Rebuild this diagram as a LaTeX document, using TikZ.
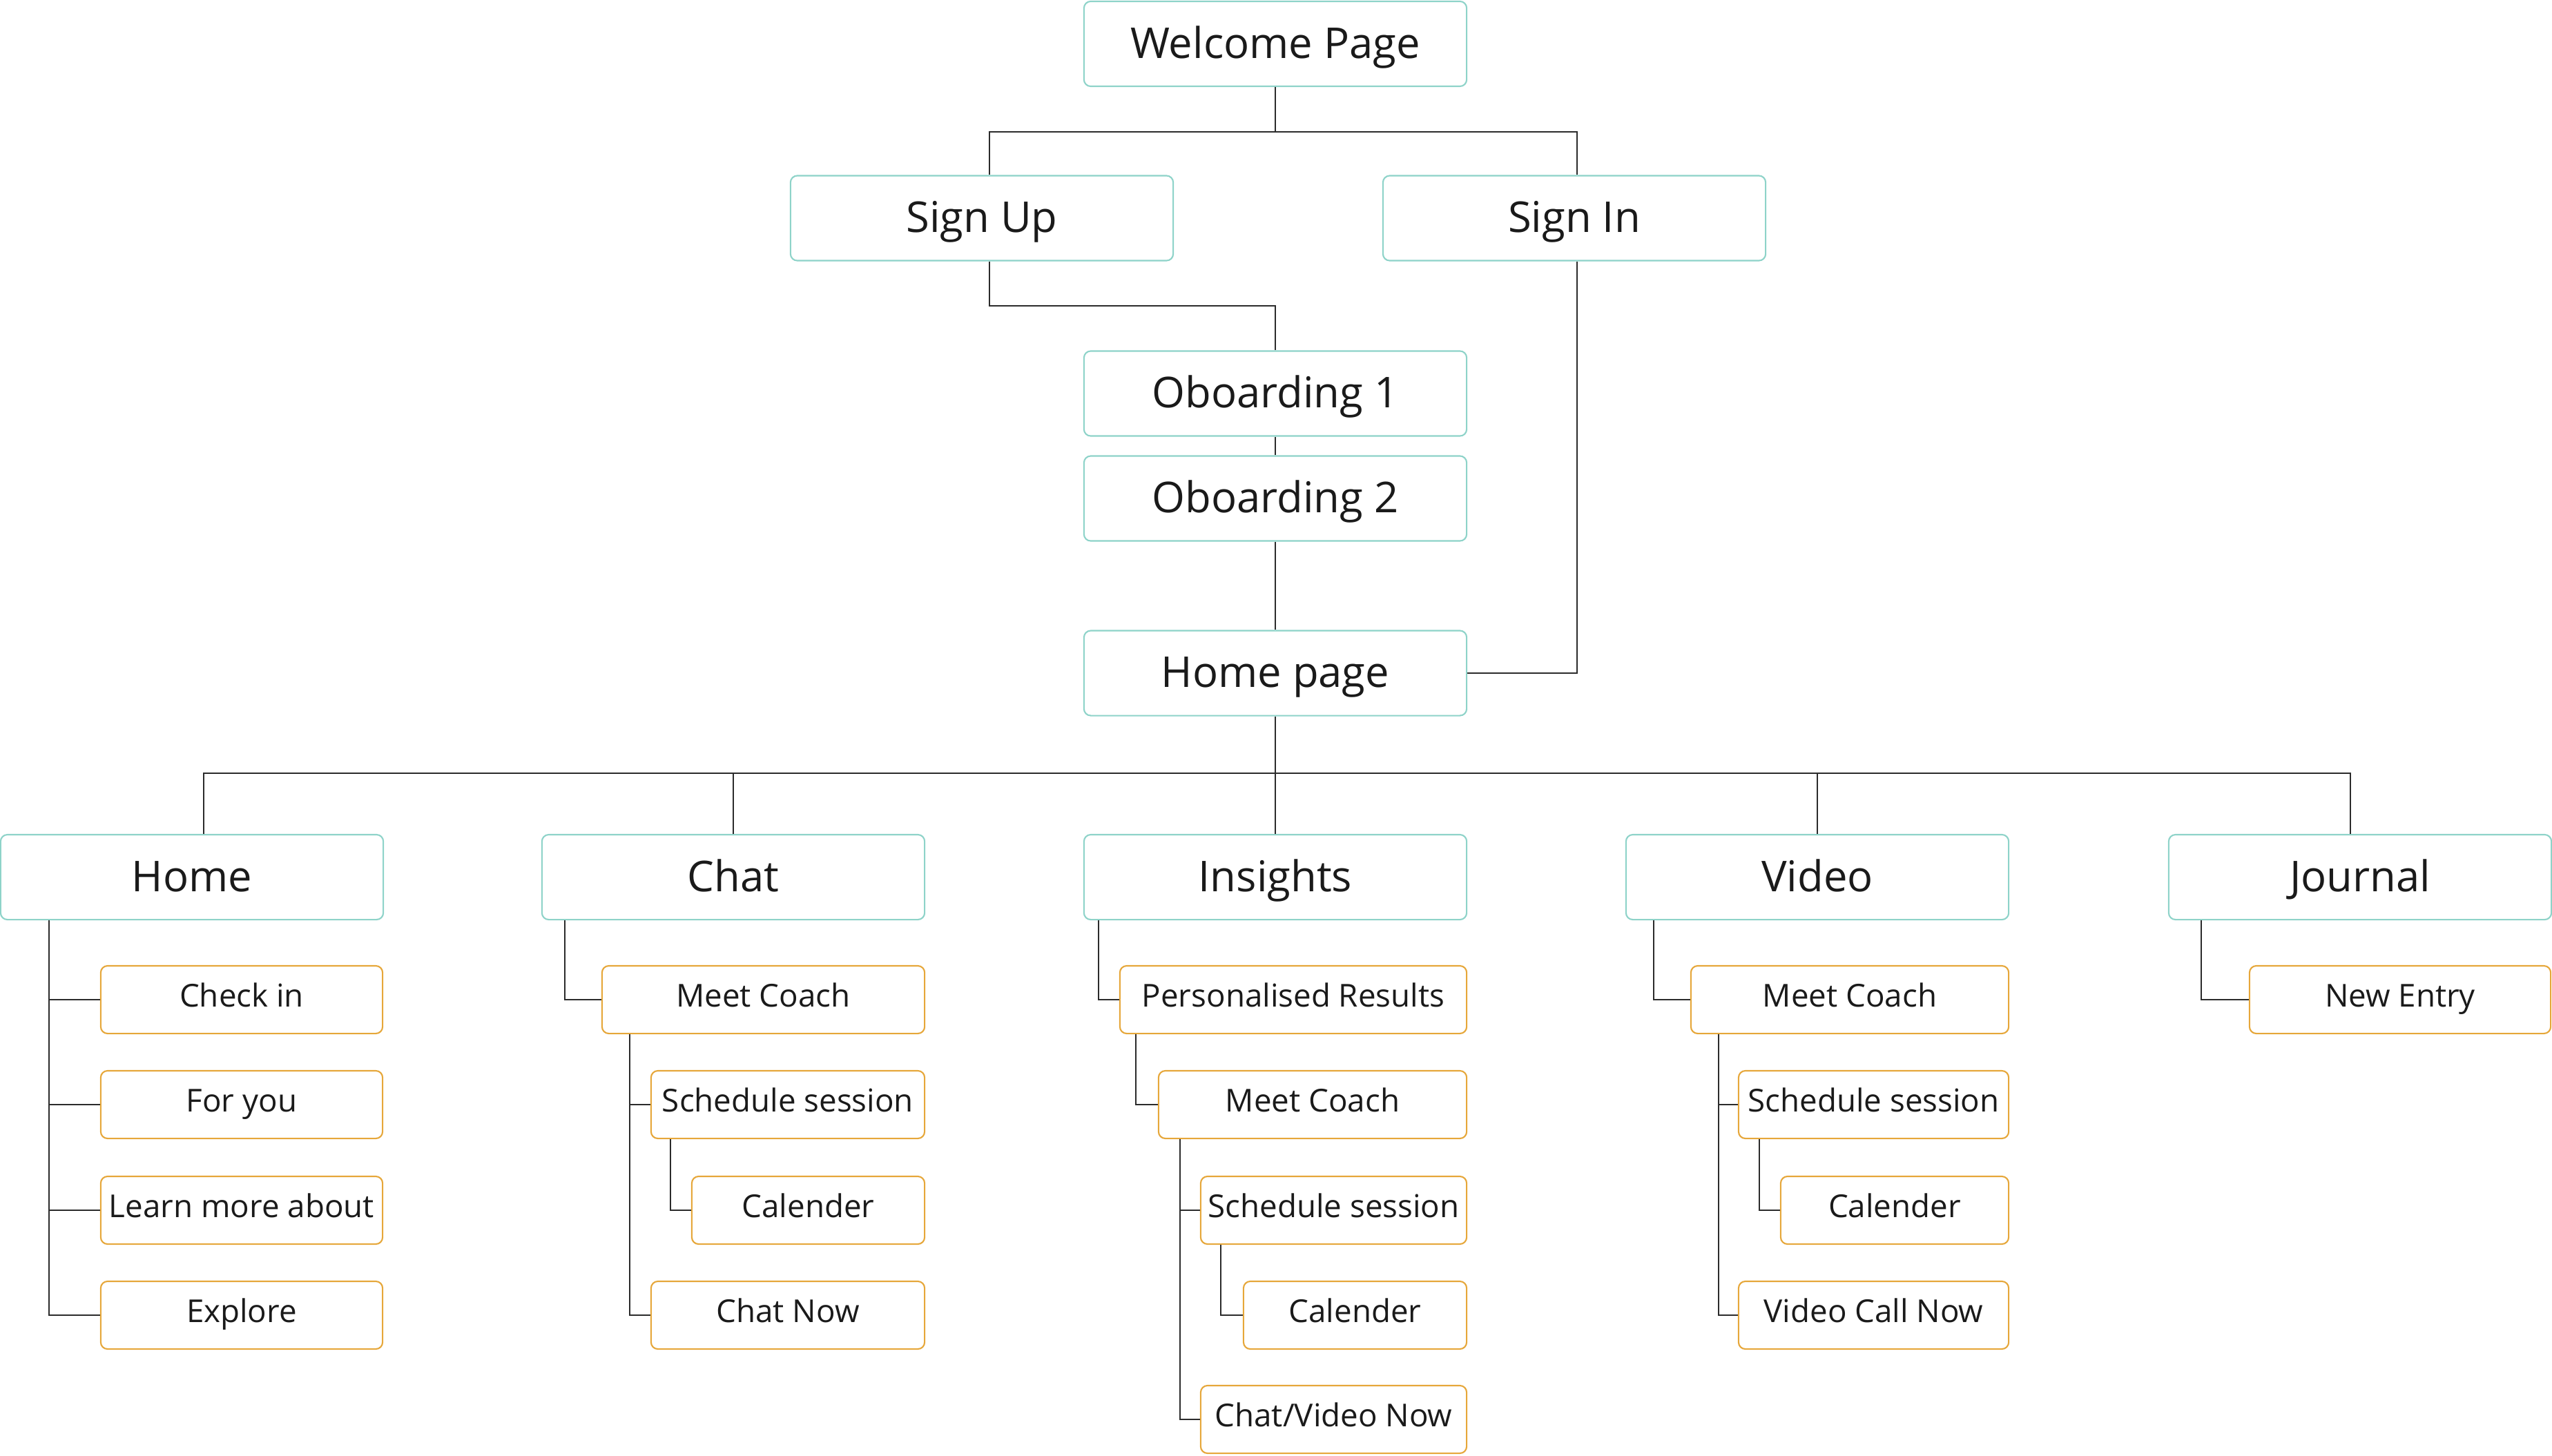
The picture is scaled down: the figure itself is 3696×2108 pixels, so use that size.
\documentclass[tikz,border=0pt]{standalone}
\usepackage{fontspec}
\setmainfont{Open Sans}
\definecolor{tealb}{HTML}{8ED3C9}
\definecolor{orangeb}{HTML}{E6A73A}
\definecolor{txt}{HTML}{1A1A1A}
\definecolor{lin}{HTML}{2B2B2B}
\begin{document}
\begin{tikzpicture}[x=0.01cm,y=-0.01cm,
  topbox/.style={draw=tealb,line width=0.6pt,rounded corners=2.8pt,fill=white,
    minimum width=5.54cm,minimum height=1.23cm,inner sep=0pt,text=txt,
    text height=12.5pt,text depth=0.6pt,
    font=\fontsize{17.5}{20}\selectfont},
  leafbox/.style={draw=orangeb,line width=0.6pt,rounded corners=2.8pt,fill=white,
    minimum height=0.98cm,inner sep=0pt,text=txt,
    text height=9.3pt,text depth=3.3pt,
    font=\fontsize{13}{15}\selectfont},
  conn/.style={draw=lin,line width=0.6pt}]
\useasboundingbox (0,0) rectangle (3696,2108);

% top part
\node[topbox] (welcome) at (1847,63.5) {Welcome Page};
\node[topbox] (signup) at (1422,316) {Sign Up};
\node[topbox] (signin) at (2280,316) {Sign In};
\node[topbox] (ob1) at (1847,570) {Oboarding 1};
\node[topbox] (ob2) at (1847,722) {Oboarding 2};
\node[topbox] (homepage) at (1847,975) {Home page};

% second row
\node[topbox] (home) at (278,1270.5) {Home};
\node[topbox] (chat) at (1062,1270.5) {Chat};
\node[topbox] (insights) at (1847,1270.5) {Insights};
\node[topbox] (video) at (2632,1270.5) {Video};
\node[topbox] (journal) at (3418,1270.5) {Journal};

% Home leaves
\node[leafbox,minimum width=4.08cm] (hck) at (350,1448) {Check in};
\node[leafbox,minimum width=4.08cm] (hfy) at (350,1600) {For you};
\node[leafbox,minimum width=4.08cm] (hlm) at (350,1753) {Learn more about};
\node[leafbox,minimum width=4.08cm] (hex) at (350,1905) {Explore};

% Chat leaves
\node[leafbox,minimum width=4.67cm] (cmc) at (1105.5,1448) {Meet Coach};
\node[leafbox,minimum width=3.96cm] (css) at (1141,1600) {Schedule session};
\node[leafbox,minimum width=3.37cm] (ccal) at (1170.5,1753) {Calender};
\node[leafbox,minimum width=3.96cm] (cnow) at (1141,1905) {Chat Now};

% Insights leaves
\node[leafbox,minimum width=5.02cm] (ipr) at (1873,1448) {Personalised Results};
\node[leafbox,minimum width=4.46cm] (imc) at (1901,1600) {Meet Coach};
\node[leafbox,minimum width=3.85cm] (iss) at (1931.5,1753) {Schedule session};
\node[leafbox,minimum width=3.23cm] (ical) at (1962.5,1905) {Calender};
\node[leafbox,minimum width=3.85cm] (inow) at (1931.5,2056) {Chat/Video Now};

% Video leaves
\node[leafbox,minimum width=4.60cm] (vmc) at (2679,1448) {Meet Coach};
\node[leafbox,minimum width=3.91cm] (vss) at (2713.5,1600) {Schedule session};
\node[leafbox,minimum width=3.30cm] (vcal) at (2744,1753) {Calender};
\node[leafbox,minimum width=3.91cm] (vnow) at (2713.5,1905) {Video Call Now};

% Journal leaves
\node[leafbox,minimum width=4.36cm] (jne) at (3476,1448) {New Entry};

% helper coordinates
\coordinate (bus1) at (1847,191);
\coordinate (sud) at (1433,191);
\coordinate (sid) at (2284,191);
\coordinate (j1) at (1847,443);
\coordinate (bus2) at (1847,1120);
\coordinate (dh) at (295,1120);
\coordinate (dj) at (3404,1120);
\coordinate (th) at (71,0);
\coordinate (tc1) at (818,0);
\coordinate (tc2) at (912,0);
\coordinate (tc3) at (971,0);
\coordinate (ti1) at (1591,0);
\coordinate (ti2) at (1645,0);
\coordinate (ti3) at (1709,0);
\coordinate (ti4) at (1768,0);
\coordinate (tv1) at (2395,0);
\coordinate (tv2) at (2489,0);
\coordinate (tv3) at (2548,0);
\coordinate (tj1) at (3188,0);

% top connectors
\draw[conn] (welcome.south) -- (bus1);
\draw[conn] (signup.north -| sud) -- (sud) -- (sid) -- (signin.north -| sid);
\draw[conn] (signup.south -| sud) |- (j1) -- (ob1.north);
\draw[conn] (ob1) -- (ob2);
\draw[conn] (ob2) -- (homepage);
\draw[conn] (signin.south -| sid) |- (homepage.east);
\draw[conn] (homepage.south) -- (bus2);
\draw[conn] (home.north -| dh) -- (dh) -- (dj) -- (journal.north -| dj);
\draw[conn] (chat.north) -- (chat.north |- bus2);
\draw[conn] (insights.north) -- (insights.north |- bus2);
\draw[conn] (video.north) -- (video.north |- bus2);

% Home tree
\draw[conn] (home.south -| th) |- (hex.west);
\draw[conn] (th |- hck.west) -- (hck.west);
\draw[conn] (th |- hfy.west) -- (hfy.west);
\draw[conn] (th |- hlm.west) -- (hlm.west);

% Chat tree
\draw[conn] (chat.south -| tc1) |- (cmc.west);
\draw[conn] (cmc.south -| tc2) |- (cnow.west);
\draw[conn] (tc2 |- css.west) -- (css.west);
\draw[conn] (css.south -| tc3) |- (ccal.west);

% Insights tree
\draw[conn] (insights.south -| ti1) |- (ipr.west);
\draw[conn] (ipr.south -| ti2) |- (imc.west);
\draw[conn] (imc.south -| ti3) |- (inow.west);
\draw[conn] (ti3 |- iss.west) -- (iss.west);
\draw[conn] (iss.south -| ti4) |- (ical.west);

% Video tree
\draw[conn] (video.south -| tv1) |- (vmc.west);
\draw[conn] (vmc.south -| tv2) |- (vnow.west);
\draw[conn] (tv2 |- vss.west) -- (vss.west);
\draw[conn] (vss.south -| tv3) |- (vcal.west);

% Journal tree
\draw[conn] (journal.south -| tj1) |- (jne.west);
\end{tikzpicture}
\end{document}
